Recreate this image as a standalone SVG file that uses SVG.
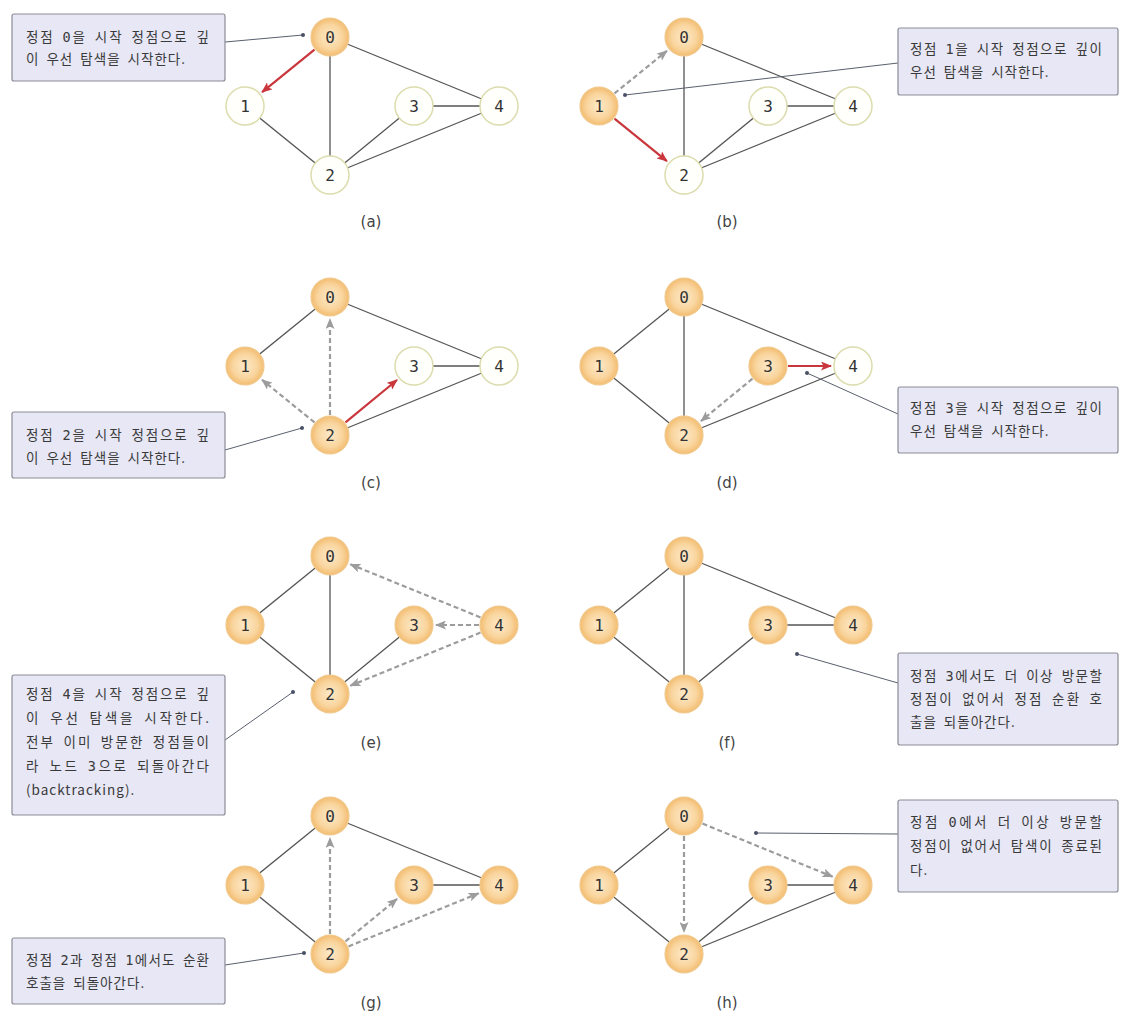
<svg xmlns="http://www.w3.org/2000/svg" width="1130" height="1018" viewBox="0 0 1130 1018">
<style>
.e{stroke:#555;stroke-width:1.3;fill:none}
.red{stroke:#c9363c;stroke-width:2.2;fill:none;marker-end:url(#ahr)}
.dash{stroke:#9c9c9c;stroke-width:2.2;fill:none;stroke-dasharray:5 3;marker-end:url(#ahg)}
.v{fill:url(#gv);stroke:#f0c98e;stroke-width:1.2}
.u{fill:#fffffb;stroke:#dcdcae;stroke-width:1.5}
.nl{font-family:"DejaVu Sans Mono",monospace;font-size:16px;fill:#333;text-anchor:middle}
.box{fill:#e7e7f5;stroke:#8c8c98;stroke-width:1.2}
.bt{font-family:"Noto Sans CJK KR","Noto Sans",sans-serif;font-size:13.5px;letter-spacing:1px;word-spacing:3px;fill:#3a3a3a}
.m{font-family:"DejaVu Sans Mono",monospace}
.ld{stroke:#5a5f6e;stroke-width:1;fill:none}
.dot{fill:#4a5066}
.cap{font-family:"DejaVu Sans","Noto Sans",sans-serif;font-size:15px;fill:#444;text-anchor:middle}
</style>
<defs>
<radialGradient id="gv" cx="0.5" cy="0.5" r="0.5">
<stop offset="0" stop-color="#fde9c9"/>
<stop offset="0.65" stop-color="#f9d59e"/>
<stop offset="1" stop-color="#f3bc70"/>
</radialGradient>
<marker id="ahr" markerUnits="userSpaceOnUse" markerWidth="11" markerHeight="9" viewBox="0 0 11 9" refX="10" refY="4.5" orient="auto"><path d="M0,0 L11,4.5 L0,9 L2.5,4.5 z" fill="#c9363c"/></marker>
<marker id="ahg" markerUnits="userSpaceOnUse" markerWidth="11" markerHeight="9" viewBox="0 0 11 9" refX="10" refY="4.5" orient="auto"><path d="M0,0 L11,4.5 L0,9 L2.5,4.5 z" fill="#9c9c9c"/></marker>
</defs>
<rect width="1130" height="1018" fill="#ffffff"/>

<!-- (a) -->
<g id="panel-a" transform="translate(245,37)">
<g id="a-connectors">
<line class="e" x1="85" y1="0" x2="85" y2="138"/>
<line class="e" x1="85" y1="0" x2="254" y2="69"/>
<line class="e" x1="0" y1="69" x2="85" y2="138"/>
<line class="e" x1="85" y1="138" x2="169" y2="69"/>
<line class="e" x1="85" y1="138" x2="254" y2="69"/>
<line class="e" x1="169" y1="69" x2="254" y2="69"/>
<line class="red" x1="69.5" y1="12.6" x2="17.1" y2="55.1"/>
</g>
<g id="a-n0"><circle class="v" cx="85" cy="0" r="19"/><text class="nl" x="85" y="6">0</text></g>
<g id="a-n1"><circle class="u" cx="0" cy="69" r="19"/><text class="nl" x="0" y="75">1</text></g>
<g id="a-n2"><circle class="u" cx="85" cy="138" r="19"/><text class="nl" x="85" y="144">2</text></g>
<g id="a-n3"><circle class="u" cx="169" cy="69" r="19"/><text class="nl" x="169" y="75">3</text></g>
<g id="a-n4"><circle class="u" cx="254" cy="69" r="19"/><text class="nl" x="254" y="75">4</text></g>
</g>
<g id="callout-a">
<line class="ld" x1="225" y1="42" x2="303" y2="35"/><circle class="dot" cx="303" cy="35" r="2"/>
<rect class="box" x="12" y="14" width="213" height="67" rx="2"/>
<text class="bt" x="26" y="42" textLength="184" lengthAdjust="spacing">정점 <tspan class="m">0</tspan>을 시작 정점으로 깊</text>
<text class="bt" x="26" y="64">이 우선 탐색을 시작한다.</text>
</g>
<text class="cap" x="371" y="227">(a)</text>

<!-- (b) -->
<g id="panel-b" transform="translate(599,37)">
<g id="b-connectors">
<line class="e" x1="85" y1="0" x2="85" y2="138"/>
<line class="e" x1="85" y1="0" x2="254" y2="69"/>
<line class="e" x1="85" y1="138" x2="169" y2="69"/>
<line class="e" x1="85" y1="138" x2="254" y2="69"/>
<line class="e" x1="169" y1="69" x2="254" y2="69"/>
<line class="dash" x1="15.5" y1="56.4" x2="67.9" y2="13.9"/>
<line class="red" x1="15.5" y1="81.6" x2="67.9" y2="124.1"/>
</g>
<g id="b-n0"><circle class="v" cx="85" cy="0" r="19"/><text class="nl" x="85" y="6">0</text></g>
<g id="b-n1"><circle class="v" cx="0" cy="69" r="19"/><text class="nl" x="0" y="75">1</text></g>
<g id="b-n2"><circle class="u" cx="85" cy="138" r="19"/><text class="nl" x="85" y="144">2</text></g>
<g id="b-n3"><circle class="u" cx="169" cy="69" r="19"/><text class="nl" x="169" y="75">3</text></g>
<g id="b-n4"><circle class="u" cx="254" cy="69" r="19"/><text class="nl" x="254" y="75">4</text></g>
</g>
<g id="callout-b">
<line class="ld" x1="898" y1="63" x2="625" y2="95"/><circle class="dot" cx="625" cy="95" r="2"/>
<rect class="box" x="898" y="28" width="220" height="67" rx="2"/>
<text class="bt" x="910" y="54" textLength="193" lengthAdjust="spacing">정점 <tspan class="m">1</tspan>을 시작 정점으로 깊이</text>
<text class="bt" x="910" y="77">우선 탐색을 시작한다.</text>
</g>
<text class="cap" x="727" y="227">(b)</text>

<!-- (c) -->
<g id="panel-c" transform="translate(245,297)">
<g id="c-connectors">
<line class="e" x1="85" y1="0" x2="0" y2="69"/>
<line class="e" x1="85" y1="0" x2="254" y2="69"/>
<line class="e" x1="85" y1="138" x2="254" y2="69"/>
<line class="e" x1="169" y1="69" x2="254" y2="69"/>
<line class="dash" x1="69.5" y1="125.4" x2="17.1" y2="82.9"/>
<line class="dash" x1="85" y1="118" x2="85" y2="22"/>
<line class="red" x1="100.5" y1="125.3" x2="152" y2="83"/>
</g>
<g id="c-n0"><circle class="v" cx="85" cy="0" r="19"/><text class="nl" x="85" y="6">0</text></g>
<g id="c-n1"><circle class="v" cx="0" cy="69" r="19"/><text class="nl" x="0" y="75">1</text></g>
<g id="c-n2"><circle class="v" cx="85" cy="138" r="19"/><text class="nl" x="85" y="144">2</text></g>
<g id="c-n3"><circle class="u" cx="169" cy="69" r="19"/><text class="nl" x="169" y="75">3</text></g>
<g id="c-n4"><circle class="u" cx="254" cy="69" r="19"/><text class="nl" x="254" y="75">4</text></g>
</g>
<g id="callout-c">
<line class="ld" x1="225" y1="450" x2="302" y2="428"/><circle class="dot" cx="302" cy="428" r="2"/>
<rect class="box" x="12" y="412" width="213" height="66" rx="2"/>
<text class="bt" x="26" y="440" textLength="184" lengthAdjust="spacing">정점 <tspan class="m">2</tspan>을 시작 정점으로 깊</text>
<text class="bt" x="26" y="463">이 우선 탐색을 시작한다.</text>
</g>
<text class="cap" x="371" y="488">(c)</text>

<!-- (d) -->
<g id="panel-d" transform="translate(599,297)">
<g id="d-connectors">
<line class="e" x1="85" y1="0" x2="0" y2="69"/>
<line class="e" x1="85" y1="0" x2="85" y2="138"/>
<line class="e" x1="0" y1="69" x2="85" y2="138"/>
<line class="e" x1="85" y1="0" x2="254" y2="69"/>
<line class="e" x1="85" y1="138" x2="254" y2="69"/>
<line class="dash" x1="153.5" y1="81.7" x2="102" y2="124"/>
<line class="red" x1="189" y1="69" x2="232" y2="69"/>
</g>
<g id="d-n0"><circle class="v" cx="85" cy="0" r="19"/><text class="nl" x="85" y="6">0</text></g>
<g id="d-n1"><circle class="v" cx="0" cy="69" r="19"/><text class="nl" x="0" y="75">1</text></g>
<g id="d-n2"><circle class="v" cx="85" cy="138" r="19"/><text class="nl" x="85" y="144">2</text></g>
<g id="d-n3"><circle class="v" cx="169" cy="69" r="19"/><text class="nl" x="169" y="75">3</text></g>
<g id="d-n4"><circle class="u" cx="254" cy="69" r="19"/><text class="nl" x="254" y="75">4</text></g>
</g>
<g id="callout-d">
<line class="ld" x1="898" y1="414" x2="807" y2="373"/><circle class="dot" cx="807" cy="373" r="2"/>
<rect class="box" x="898" y="387" width="220" height="66" rx="2"/>
<text class="bt" x="910" y="413" textLength="193" lengthAdjust="spacing">정점 <tspan class="m">3</tspan>을 시작 정점으로 깊이</text>
<text class="bt" x="910" y="436">우선 탐색을 시작한다.</text>
</g>
<text class="cap" x="727" y="488">(d)</text>

<!-- (e) -->
<g id="panel-e" transform="translate(245,556)">
<g id="e-connectors">
<line class="e" x1="85" y1="0" x2="0" y2="69"/>
<line class="e" x1="85" y1="0" x2="85" y2="138"/>
<line class="e" x1="0" y1="69" x2="85" y2="138"/>
<line class="e" x1="85" y1="138" x2="169" y2="69"/>
<line class="dash" x1="235.5" y1="61.4" x2="105.4" y2="8.3"/>
<line class="dash" x1="234" y1="69" x2="191" y2="69"/>
<line class="dash" x1="235.5" y1="76.6" x2="105.4" y2="129.7"/>
</g>
<g id="e-n0"><circle class="v" cx="85" cy="0" r="19"/><text class="nl" x="85" y="6">0</text></g>
<g id="e-n1"><circle class="v" cx="0" cy="69" r="19"/><text class="nl" x="0" y="75">1</text></g>
<g id="e-n2"><circle class="v" cx="85" cy="138" r="19"/><text class="nl" x="85" y="144">2</text></g>
<g id="e-n3"><circle class="v" cx="169" cy="69" r="19"/><text class="nl" x="169" y="75">3</text></g>
<g id="e-n4"><circle class="v" cx="254" cy="69" r="19"/><text class="nl" x="254" y="75">4</text></g>
</g>
<g id="callout-e">
<line class="ld" x1="225" y1="740" x2="293" y2="692"/><circle class="dot" cx="293" cy="692" r="2"/>
<rect class="box" x="12" y="675" width="213" height="140" rx="2"/>
<text class="bt" x="26" y="699" textLength="184" lengthAdjust="spacing">정점 <tspan class="m">4</tspan>을 시작 정점으로 깊</text>
<text class="bt" x="26" y="723" textLength="184" lengthAdjust="spacing">이 우선 탐색을 시작한다.</text>
<text class="bt" x="26" y="747" textLength="184" lengthAdjust="spacing">전부 이미 방문한 정점들이</text>
<text class="bt" x="26" y="771" textLength="184" lengthAdjust="spacing">라 노드 <tspan class="m">3</tspan>으로 되돌아간다</text>
<text class="bt" x="26" y="795">(backtracking).</text>
</g>
<text class="cap" x="371" y="748">(e)</text>

<!-- (f) -->
<g id="panel-f" transform="translate(599,556)">
<g id="f-connectors">
<line class="e" x1="85" y1="0" x2="0" y2="69"/>
<line class="e" x1="85" y1="0" x2="85" y2="138"/>
<line class="e" x1="0" y1="69" x2="85" y2="138"/>
<line class="e" x1="85" y1="0" x2="254" y2="69"/>
<line class="e" x1="85" y1="138" x2="169" y2="69"/>
<line class="e" x1="169" y1="69" x2="254" y2="69"/>
</g>
<g id="f-n0"><circle class="v" cx="85" cy="0" r="19"/><text class="nl" x="85" y="6">0</text></g>
<g id="f-n1"><circle class="v" cx="0" cy="69" r="19"/><text class="nl" x="0" y="75">1</text></g>
<g id="f-n2"><circle class="v" cx="85" cy="138" r="19"/><text class="nl" x="85" y="144">2</text></g>
<g id="f-n3"><circle class="v" cx="169" cy="69" r="19"/><text class="nl" x="169" y="75">3</text></g>
<g id="f-n4"><circle class="v" cx="254" cy="69" r="19"/><text class="nl" x="254" y="75">4</text></g>
</g>
<g id="callout-f">
<line class="ld" x1="898" y1="683" x2="797" y2="654"/><circle class="dot" cx="797" cy="654" r="2"/>
<rect class="box" x="898" y="653" width="220" height="92" rx="2"/>
<text class="bt" x="910" y="681" textLength="193" lengthAdjust="spacing">정점 <tspan class="m">3</tspan>에서도 더 이상 방문할</text>
<text class="bt" x="910" y="704" textLength="193" lengthAdjust="spacing">정점이 없어서 정점 순환 호</text>
<text class="bt" x="910" y="727">출을 되돌아간다.</text>
</g>
<text class="cap" x="727" y="748">(f)</text>

<!-- (g) -->
<g id="panel-g" transform="translate(245,816)">
<g id="g-connectors">
<line class="e" x1="85" y1="0" x2="0" y2="69"/>
<line class="e" x1="0" y1="69" x2="85" y2="138"/>
<line class="e" x1="85" y1="0" x2="254" y2="69"/>
<line class="e" x1="169" y1="69" x2="254" y2="69"/>
<line class="dash" x1="85" y1="118" x2="85" y2="22"/>
<line class="dash" x1="100.5" y1="125.3" x2="152" y2="83"/>
<line class="dash" x1="103.5" y1="130.4" x2="233.6" y2="77.3"/>
</g>
<g id="g-n0"><circle class="v" cx="85" cy="0" r="19"/><text class="nl" x="85" y="6">0</text></g>
<g id="g-n1"><circle class="v" cx="0" cy="69" r="19"/><text class="nl" x="0" y="75">1</text></g>
<g id="g-n2"><circle class="v" cx="85" cy="138" r="19"/><text class="nl" x="85" y="144">2</text></g>
<g id="g-n3"><circle class="v" cx="169" cy="69" r="19"/><text class="nl" x="169" y="75">3</text></g>
<g id="g-n4"><circle class="v" cx="254" cy="69" r="19"/><text class="nl" x="254" y="75">4</text></g>
</g>
<g id="callout-g">
<line class="ld" x1="225" y1="965" x2="304" y2="953"/><circle class="dot" cx="304" cy="953" r="2"/>
<rect class="box" x="12" y="938" width="213" height="66" rx="2"/>
<text class="bt" x="26" y="965" textLength="184" lengthAdjust="spacing">정점 <tspan class="m">2</tspan>과 정점 <tspan class="m">1</tspan>에서도 순환</text>
<text class="bt" x="26" y="988">호출을 되돌아간다.</text>
</g>
<text class="cap" x="371" y="1008">(g)</text>

<!-- (h) -->
<g id="panel-h" transform="translate(599,816)">
<g id="h-connectors">
<line class="e" x1="85" y1="0" x2="0" y2="69"/>
<line class="e" x1="0" y1="69" x2="85" y2="138"/>
<line class="e" x1="85" y1="138" x2="169" y2="69"/>
<line class="e" x1="85" y1="138" x2="254" y2="69"/>
<line class="e" x1="169" y1="69" x2="254" y2="69"/>
<line class="dash" x1="85" y1="20" x2="85" y2="116"/>
<line class="dash" x1="103.5" y1="7.6" x2="233.6" y2="60.7"/>
</g>
<g id="h-n0"><circle class="v" cx="85" cy="0" r="19"/><text class="nl" x="85" y="6">0</text></g>
<g id="h-n1"><circle class="v" cx="0" cy="69" r="19"/><text class="nl" x="0" y="75">1</text></g>
<g id="h-n2"><circle class="v" cx="85" cy="138" r="19"/><text class="nl" x="85" y="144">2</text></g>
<g id="h-n3"><circle class="v" cx="169" cy="69" r="19"/><text class="nl" x="169" y="75">3</text></g>
<g id="h-n4"><circle class="v" cx="254" cy="69" r="19"/><text class="nl" x="254" y="75">4</text></g>
</g>
<g id="callout-h">
<line class="ld" x1="898" y1="834" x2="756" y2="833"/><circle class="dot" cx="756" cy="833" r="2"/>
<rect class="box" x="898" y="800" width="220" height="92" rx="2"/>
<text class="bt" x="910" y="827" textLength="193" lengthAdjust="spacing">정점 <tspan class="m">0</tspan>에서 더 이상 방문할</text>
<text class="bt" x="910" y="851" textLength="193" lengthAdjust="spacing">정점이 없어서 탐색이 종료된</text>
<text class="bt" x="910" y="875">다.</text>
</g>
<text class="cap" x="727" y="1008">(h)</text>
</svg>
